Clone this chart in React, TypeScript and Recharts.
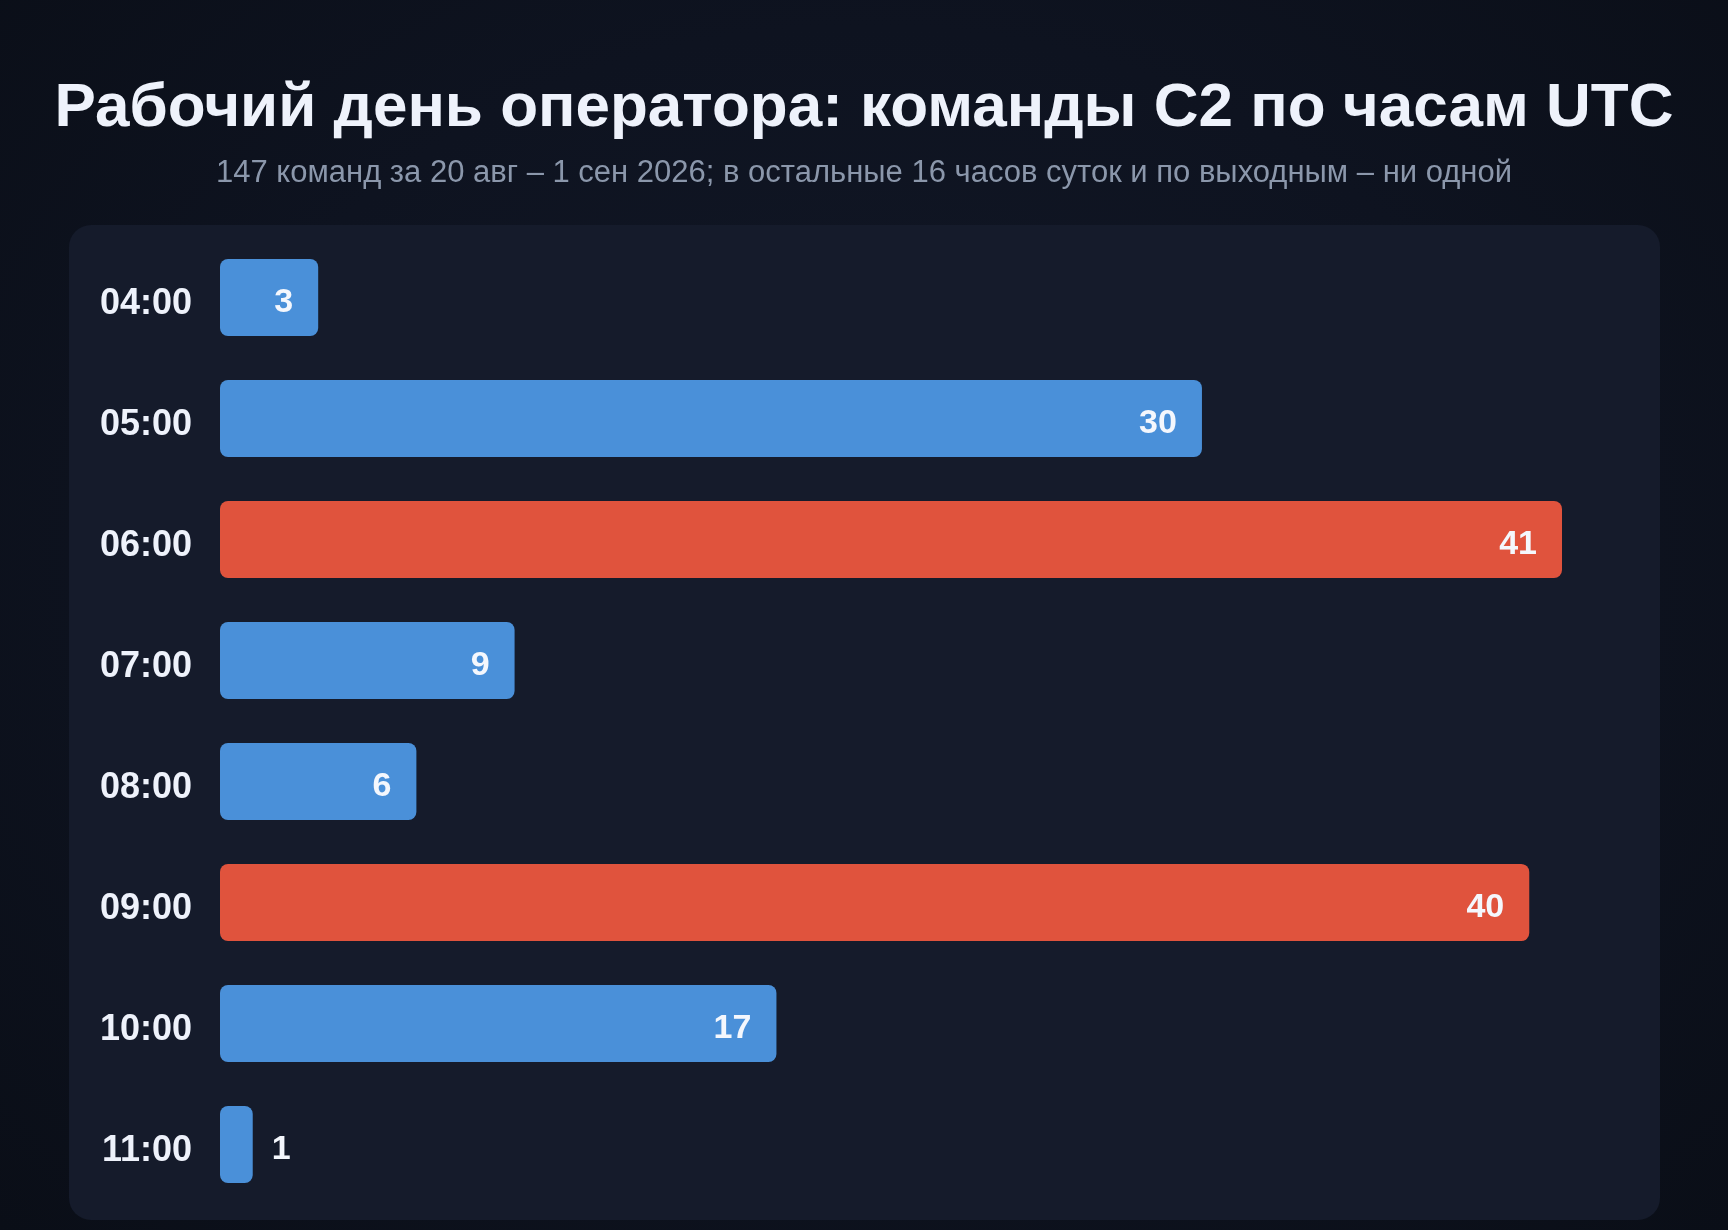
import React from "react";
import { BarChart, Bar, XAxis, YAxis, Cell, LabelList } from "recharts";

const hours = ["04:00", "05:00", "06:00", "07:00", "08:00", "09:00", "10:00", "11:00"];
const commands = [3, 30, 41, 9, 6, 40, 17, 1];
const peakHours = ["06:00", "09:00"];

const TITLE = "Рабочий день оператора: команды C2 по часам UTC";
const SUBTITLE = "147 команд за 20 авг – 1 сен 2026; в остальные 16 часов суток и по выходным – ни одной";

const BLUE = "#4a90d9";
const RED = "#e0533d";
const FONT = "'Liberation Sans', Arial, Helvetica, sans-serif";

const data = hours.map((h, i) => ({ hour: h, count: commands[i] }));

const ValueLabel = (props: any) => {
  const { x, y, width, height, value } = props;
  const inside = width > 60;
  const cy = y + height / 2 + 14.5;
  return (
    <text
      x={inside ? x + width - 25 : x + width + 19}
      y={cy}
      textAnchor={inside ? "end" : "start"}
      fill="#f4f7fd"
      fontSize={34}
      fontWeight={700}
      fontFamily={FONT}
    >
      {value}
    </text>
  );
};

const HourTick = (props: any) => {
  const { x, y, payload } = props;
  return (
    <text
      x={x}
      y={y + 16}
      textAnchor="end"
      fill="#eef2fb"
      fontSize={36}
      fontWeight={700}
      fontFamily={FONT}
    >
      {payload.value}
    </text>
  );
};

export default function App() {
  return (
    <div
      style={{
        position: "fixed",
        left: 0,
        top: 0,
        width: 1728,
        height: 1230,
        background: "radial-gradient(ellipse at 50% 45%, #121827 0%, #0e1320 55%, #0a0e17 100%)",
        fontFamily: FONT,
        overflow: "hidden",
      }}
    >
      <div
        style={{
          position: "absolute",
          left: 0,
          width: 1728,
          top: 74,
          textAlign: "center",
          fontSize: 62,
          lineHeight: 1,
          fontWeight: 700,
          color: "#eef2fb",
          whiteSpace: "nowrap",
        }}
      >
        {TITLE}
      </div>
      <div
        style={{
          position: "absolute",
          left: 0,
          width: 1728,
          top: 155.5,
          textAlign: "center",
          fontSize: 31,
          lineHeight: 1,
          color: "#8b97ab",
          whiteSpace: "nowrap",
        }}
      >
        {SUBTITLE}
      </div>
      <div
        style={{
          position: "absolute",
          left: 69,
          top: 225,
          width: 1591,
          height: 995,
          borderRadius: 22,
          background: "#151b2b",
        }}
      >
        <BarChart
          width={1591}
          height={995}
          data={data}
          layout="vertical"
          margin={{ top: 12, right: 98, bottom: 15, left: 0 }}
          barSize={77}
        >
          <XAxis type="number" domain={[0, 41]} hide />
          <YAxis
            type="category"
            dataKey="hour"
            width={151}
            axisLine={false}
            tickLine={false}
            tickSize={0}
            tickMargin={28}
            tick={<HourTick />}
            interval={0}
          />
          <Bar dataKey="count" radius={8} isAnimationActive={false}>
            {data.map((d) => (
              <Cell key={d.hour} fill={peakHours.includes(d.hour) ? RED : BLUE} />
            ))}
            <LabelList dataKey="count" content={<ValueLabel />} />
          </Bar>
        </BarChart>
      </div>
    </div>
  );
}
